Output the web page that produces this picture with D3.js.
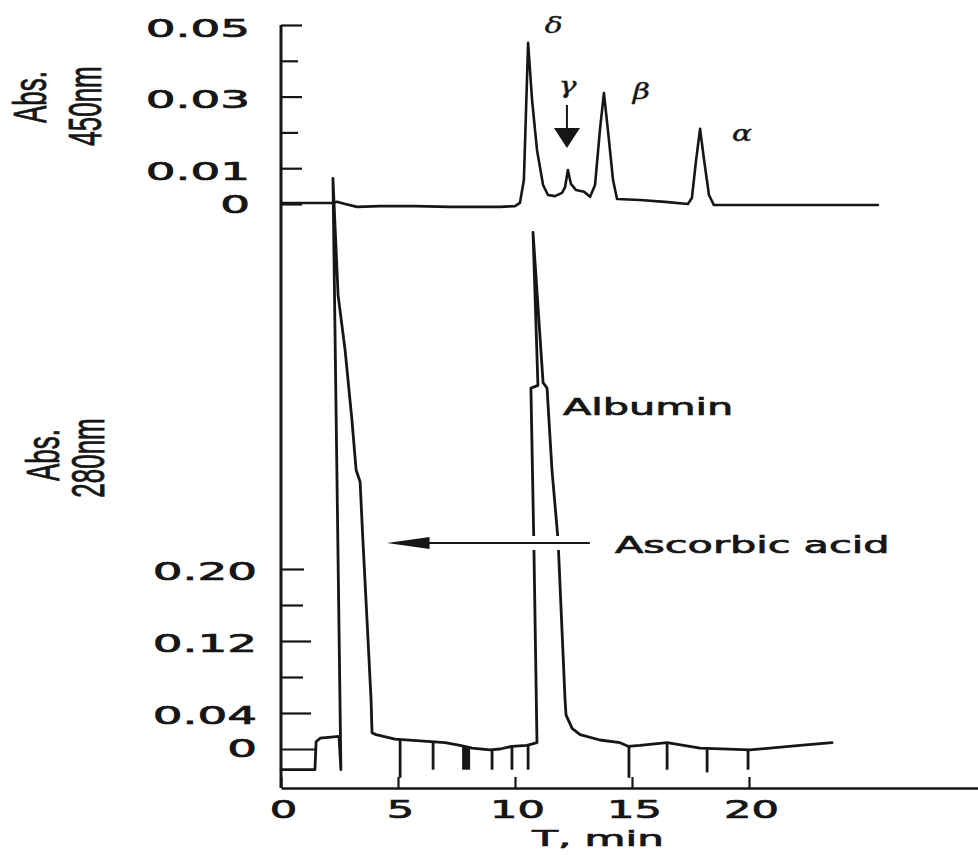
<!DOCTYPE html>
<html><head><meta charset="utf-8">
<script src="https://cdn.jsdelivr.net/npm/d3@7"></script>
<style>html,body{margin:0;padding:0;background:#fff;} svg{display:block;}</style>
</head><body>
<svg id="c" width="978" height="855"></svg>
<script>
// ---------- data ----------
// Top trace: Abs. 450 nm vs time (min)
const topTime = [0.04,2.22,2.39,2.74,3.25,4.23,5.73,7.22,9.36,10.0,10.21,10.38,10.56,10.73,10.94,11.2,11.41,11.71,12.01,12.14,12.26,12.39,12.61,12.95,13.21,13.42,13.63,13.8,13.97,14.19,14.36,15.34,16.41,17.39,17.56,17.74,17.91,18.08,18.29,18.5,25.51];
const topAbs  = [0.0003,0.0003,0.0006,0.0,-0.0008,-0.0006,-0.0006,-0.0008,-0.0008,-0.0006,0.0003,0.0067,0.045,0.029,0.0151,0.0053,0.0025,0.0022,0.0031,0.0047,0.0095,0.0056,0.0039,0.0034,0.002,0.0053,0.0207,0.031,0.0207,0.0067,0.0014,0.0011,0.0006,0.0,0.0017,0.0123,0.021,0.0123,0.0025,-0.0003,-0.0003];
// Bottom trace: Abs. 280 nm vs time (min)
const botTime = [0.0,1.45,1.5,1.67,2.48,2.56,2.22,2.44,2.74,3.03,3.21,3.38,3.5,3.72,3.85,3.89,4.06,4.87,5.94,7.01,7.65,8.16,8.93,9.36,9.87,10.51,10.94,10.81,10.68,10.98,10.77,11.2,11.37,11.58,11.84,12.14,12.18,12.44,12.78,13.63,14.49,14.83,15.34,16.5,17.91,20.04,22.18,23.55];
const botAbs  = [-0.023,-0.023,0.008,0.012,0.014,-0.023,0.634,0.504,0.443,0.366,0.31,0.297,0.232,0.121,0.054,0.018,0.016,0.011,0.009,0.007,0.004,0.001,-0.001,0.0,0.003,0.004,0.007,0.221,0.401,0.404,0.574,0.407,0.401,0.31,0.232,0.054,0.038,0.023,0.016,0.01,0.007,0.003,0.004,0.007,0.001,-0.001,0.004,0.007];
// Fraction-collector marks on the 280 nm trace
const markTime   = [5.09,6.5,7.91,9.02,9.87,10.56,14.87,16.5,18.21,19.96];
const markTop    = [0.011,0.008,0.003,-0.001,0.003,0.004,0.004,0.007,0.001,-0.001];
const markBottom = [-0.032,-0.023,-0.023,-0.023,-0.023,-0.023,-0.032,-0.023,-0.026,-0.023];
// Axes
const xTickValues = [0,5,10,15,20];
const xTickLabels = ["0","5","10","15","20"];
const topTickValues = [0,0.01,0.03,0.05];
const topTickLabels = ["0","0.01","0.03","0.05"];
const topMinorTicks = [0.02,0.04];
const botTickValues = [0,0.04,0.12,0.20];
const botTickLabels = ["0","0.04","0.12","0.20"];
const botMinorTicks = [0.08,0.16];
// Peak names on the 450 nm trace
const peakNames = ["δ","γ","β","α"];
const peakLabelTime = [11.65,12.25,15.4,19.7];
const peakLabelAbs  = [0.0478,0.031,0.0292,0.0175];

// ---------- drawing ----------
const INK = "#161616";
const SANS = "'DejaVu Sans', sans-serif";
const svg = d3.select("#c");
const x = d3.scaleLinear().domain([0,30]).range([281,983]);
const yTop = d3.scaleLinear().domain([0,0.05]).range([204,25]);
const yBot = d3.scaleLinear().domain([0,0.20]).range([749,569]);
const axisY = 788;

function stretch(sel, k, dx, dy){
  sel.each(function(){
    d3.select(this).attr("x",0).attr("y",0).attr("dy",null)
     .attr("stroke",INK).attr("stroke-width",0.7)
     .attr("transform",`translate(${dx},${dy}) scale(${k},1)`);
  });
}

// x axis (ticks pointing up)
const gx = svg.append("g").attr("transform",`translate(0,${axisY})`)
  .call(d3.axisBottom(x).tickValues(xTickValues).tickSizeInner(-11).tickSizeOuter(0)
        .tickFormat((d,i)=>xTickLabels[i]));
gx.attr("font-family",SANS).attr("font-size",24);
gx.select(".domain").attr("stroke",INK).attr("stroke-width",2.5);
gx.selectAll(".tick line").attr("stroke",INK).attr("stroke-width",2.2);
gx.selectAll(".tick text").attr("fill",INK).attr("text-anchor","middle");
stretch(gx.selectAll(".tick text"),1.8,2,30);

// left axis line (shared)
svg.append("line").attr("x1",x(0)).attr("x2",x(0)).attr("y1",yTop(0.05)).attr("y2",axisY)
  .attr("stroke",INK).attr("stroke-width",3);

// top y axis
const gyT = svg.append("g").attr("transform",`translate(${x(0)},0)`)
  .call(d3.axisRight(yTop).tickValues(topTickValues).tickSize(21).tickFormat((d,i)=>topTickLabels[i]));
gyT.attr("font-family",SANS).attr("font-size",24);
gyT.select(".domain").remove();
gyT.selectAll(".tick line").attr("stroke",INK).attr("stroke-width",2.2);
gyT.selectAll(".tick text").attr("fill",INK).attr("text-anchor","end");
gyT.selectAll(".tick").each(function(d){
  stretch(d3.select(this).select("text"),1.95,-31, d===0 ? 8 : 11);
});
const gyTm = svg.append("g").attr("transform",`translate(${x(0)},0)`)
  .call(d3.axisRight(yTop).tickValues(topMinorTicks).tickSize(17).tickFormat(""));
gyTm.select(".domain").remove();
gyTm.selectAll(".tick line").attr("stroke",INK).attr("stroke-width",2.2);

// bottom y axis
const gyB = svg.append("g").attr("transform",`translate(${x(0)},0)`)
  .call(d3.axisRight(yBot).tickValues(botTickValues).tickSize(30).tickFormat((d,i)=>botTickLabels[i]));
gyB.attr("font-family",SANS).attr("font-size",24);
gyB.select(".domain").remove();
gyB.selectAll(".tick line").attr("stroke",INK).attr("stroke-width",2.2)
  .attr("x2",d=> d===0 ? 34 : (d===0.20 ? 23 : 30));
gyB.selectAll(".tick text").attr("fill",INK).attr("text-anchor","end");
gyB.selectAll(".tick").each(function(d){
  stretch(d3.select(this).select("text"),1.95,-24, d===0 ? 7 : 10);
});
const gyBm = svg.append("g").attr("transform",`translate(${x(0)},0)`)
  .call(d3.axisRight(yBot).tickValues(botMinorTicks).tickSize(22).tickFormat(""));
gyBm.select(".domain").remove();
gyBm.selectAll(".tick line").attr("stroke",INK).attr("stroke-width",2.2);

// traces
const topData = topTime.map((t,i)=>[t,topAbs[i]]);
const botData = botTime.map((t,i)=>[t,botAbs[i]]);
svg.append("path").datum(topData)
  .attr("d",d3.line().x(d=>x(d[0])).y(d=>yTop(d[1])))
  .attr("fill","none").attr("stroke",INK).attr("stroke-width",2.6)
  .attr("stroke-linejoin","round").attr("stroke-linecap","round");
svg.append("path").datum(botData)
  .attr("d",d3.line().x(d=>x(d[0])).y(d=>yBot(d[1])))
  .attr("fill","none").attr("stroke",INK).attr("stroke-width",2.8)
  .attr("stroke-linejoin","round").attr("stroke-linecap","round");

// fraction marks
svg.append("g").selectAll("line").data(markTime).join("line")
  .attr("x1",d=>x(d)).attr("x2",d=>x(d))
  .attr("y1",(d,i)=>yBot(markTop[i])).attr("y2",(d,i)=>yBot(markBottom[i]))
  .attr("stroke",INK).attr("stroke-width",(d,i)=> i===2 ? 8 : 2.8);

// Ascorbic acid arrow (with white gap through albumin lines)
const arrA = (749-543)/900;
const arrY = yBot(arrA);
svg.append("line").attr("x1",x(4.9)).attr("x2",x(13.2)).attr("y1",arrY).attr("y2",arrY)
  .attr("stroke","#fff").attr("stroke-width",14);
svg.append("line").attr("x1",x(4.9)).attr("x2",x(13.2)).attr("y1",arrY).attr("y2",arrY)
  .attr("stroke",INK).attr("stroke-width",2);
svg.append("path")
  .attr("d",`M${x(4.53)},${arrY} L${x(6.35)},${arrY-6} L${x(6.35)},${arrY+6} Z`)
  .attr("fill",INK);

// gamma arrow
const gx0 = x(12.22);
svg.append("line").attr("x1",gx0).attr("x2",gx0).attr("y1",105).attr("y2",131)
  .attr("stroke",INK).attr("stroke-width",2);
svg.append("path").attr("d",`M${gx0-13},128 L${gx0+13},128 L${gx0},148 Z`).attr("fill",INK);

// peak labels
svg.append("g").selectAll("text").data(peakNames).join("text")
  .attr("font-family","'DejaVu Serif', serif").attr("font-style","italic")
  .attr("font-size",22).attr("fill",INK).attr("stroke",INK).attr("stroke-width",0.4)
  .attr("text-anchor","middle")
  .text(d=>d)
  .attr("transform",(d,i)=>`translate(${x(peakLabelTime[i])},${yTop(peakLabelAbs[i])}) scale(1.35,1)`);

// annotations
function label(txt, px, py, size, k, anchor){
  return svg.append("text").attr("font-family",SANS).attr("font-size",size).attr("fill",INK)
    .attr("stroke",INK).attr("stroke-width",0.7)
    .attr("text-anchor",anchor||"start").text(txt)
    .attr("transform",`translate(${px},${py}) scale(${k},1)`);
}
label("Albumin",563,415,23,1.8);
label("Ascorbic acid",615,553,23,1.8);
label("T, min",598,846,21,2.0,"middle");

// rotated axis titles
function vlabel(txt, bx, cy){
  svg.append("text").attr("font-family","'Liberation Sans', Arial, sans-serif")
    .attr("font-size",26).attr("fill",INK).attr("stroke",INK).attr("stroke-width",0.5)
    .attr("text-anchor","middle").text(txt)
    .attr("transform",`translate(${bx},${cy}) scale(1.75,1) rotate(-90)`);
}
vlabel("Abs.",46,97);
vlabel("450nm",101,106);
vlabel("Abs.",59,455);
vlabel("280nm",104,458);
</script>
</body></html>
